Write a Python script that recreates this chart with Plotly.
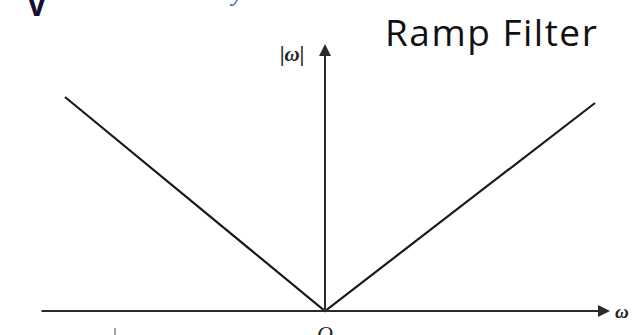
import plotly.graph_objects as go

# Ramp filter |ω| (arbitrary units)
omega = [-2.60, 0.0, 2.70]
response = [2.14, 0.0, 2.08]

# axis extents (arbitrary units)
x_axis_span = [-2.85, 2.85]
y_axis_top = 2.67

fig = go.Figure()
fig.add_trace(go.Scatter(x=omega, y=response, mode="lines",
                         line=dict(color="#1a1a1a", width=2.2),
                         hoverinfo="skip", showlegend=False))

axis_col = "#2a2a2a"
# horizontal axis with arrow
fig.add_annotation(x=x_axis_span[1], y=0, ax=x_axis_span[0], ay=0,
                   xref="x", yref="y", axref="x", ayref="y",
                   showarrow=True, arrowhead=2, arrowsize=1.2, arrowwidth=2,
                   arrowcolor=axis_col, text="")
# vertical axis with arrow
fig.add_annotation(x=0, y=y_axis_top, ax=0, ay=0,
                   xref="x", yref="y", axref="x", ayref="y",
                   showarrow=True, arrowhead=2, arrowsize=1.2, arrowwidth=2,
                   arrowcolor=axis_col, text="")

serif = "Liberation Serif"
fig.add_annotation(x=-0.33, y=2.57, xref="x", yref="y", text="<b><i>|ω|</i></b>",
                   showarrow=False, font=dict(family=serif, size=21, color="#222"))
fig.add_annotation(x=2.97, y=0.0, xref="x", yref="y", text="<b><i>ω</i></b>",
                   showarrow=False, font=dict(family=serif, size=19, color="#222"))
fig.add_annotation(x=0.0, y=-0.22, xref="x", yref="y", text="<i>O</i>",
                   showarrow=False, font=dict(family=serif, size=22, color="#222"))
fig.add_annotation(x=1.66, y=2.80, xref="x", yref="y",
                   text='<span style="letter-spacing:1.5px">Ramp Filter</span>',
                   showarrow=False, font=dict(family="Open Sans", size=37, color="#111"))
fig.add_annotation(x=-2.88, y=3.07, xref="x", yref="y", text="<b>V</b>",
                   showarrow=False, font=dict(family="Open Sans", size=30, color="#101030"))
fig.add_annotation(x=-0.89, y=3.10, yshift=8, xref="x", yref="y", text="<i>y</i>",
                   showarrow=False, font=dict(family=serif, size=24, color="#2a4fa0"))

# small tick near bottom-left
fig.add_shape(type="line", x0=-2.10, x1=-2.10, y0=-0.17, y1=-0.24,
              xref="x", yref="y", line=dict(color="#444", width=1))

fig.update_layout(
    width=635, height=335,
    margin=dict(l=0, r=0, t=0, b=0),
    paper_bgcolor="white", plot_bgcolor="white",
    xaxis=dict(range=[-3.25, 3.10], visible=False, fixedrange=True),
    yaxis=dict(range=[-0.24, 3.11], visible=False, fixedrange=True),
    showlegend=False,
)

fig.write_html("out.html", config={"displayModeBar": False},
               post_script="document.body.style.margin='0';document.body.style.overflow='hidden';")
